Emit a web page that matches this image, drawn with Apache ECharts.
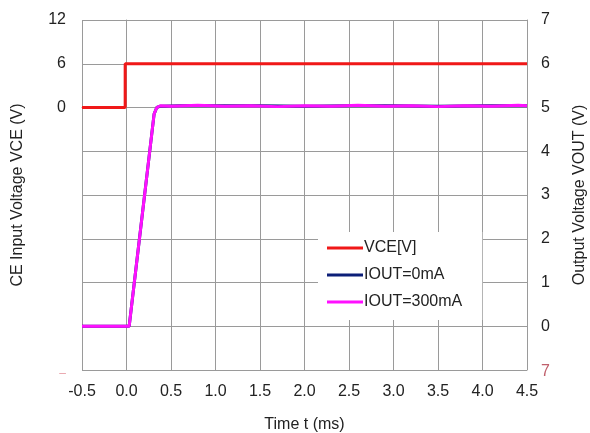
<!DOCTYPE html>
<html><head><meta charset="utf-8">
<script src="https://cdn.jsdelivr.net/npm/echarts@6/dist/echarts.min.js"></script>
<style>html,body{margin:0;padding:0;background:#fff;width:100%;height:100%;overflow:hidden}#c{position:absolute;left:0;top:0;width:590px;height:433px}</style>
</head><body><div id="c"></div>
<script>
const xTicks = [-0.5,0,0.5,1,1.5,2,2.5,3,3.5,4,4.5];
const leftTickLabels = ['12','6','0'];
const rightTickLabels = ['7','6','5','4','3','2','1','0'];
const vceTime = [-0.5, -0.015, -0.015, 4.5];
const vceVal  = [0, 0, 6, 6];
const iout0Time = [-0.5, 0.03, 0.31, 0.34, 0.38, 0.6, 1.0, 1.5, 2.0, 2.5, 3.0, 3.5, 4.0, 4.5];
const iout0Val  = [0, 0, 4.85, 5.0, 5.03, 5.04, 5.04, 5.04, 5.03, 5.04, 5.04, 5.03, 5.04, 5.04];
const iout300Time = [-0.5, 0.03, 0.31, 0.34, 0.38, 0.5, 0.8, 1.1, 1.4, 1.7, 2.0, 2.3, 2.6, 2.9, 3.2, 3.5, 3.8, 4.1, 4.4, 4.5];
const iout300Val  = [0, 0, 4.85, 5.0, 5.04, 5.03, 5.05, 5.03, 5.04, 5.02, 5.04, 5.03, 5.05, 5.03, 5.04, 5.02, 5.04, 5.03, 5.05, 5.04];

const zip = (a,b) => a.map((v,i)=>[v,b[i]]);
const gridColor = '#9a9a9a';
const font = 'Liberation Sans, Arial, sans-serif';
const fs = 16;
const chart = echarts.init(document.getElementById('c'), null, {width:590, height:433});
chart.setOption({
  animation:false,
  grid:{left:82,right:63,top:20,bottom:63,containLabel:false,outerBoundsMode:'none'},
  xAxis:{type:'value',min:-0.5,max:4.5,interval:0.5,
    name:'Time t (ms)',nameLocation:'middle',nameGap:47,
    nameTextStyle:{fontFamily:font,fontSize:fs,color:'#222'},
    axisLine:{lineStyle:{color:gridColor}},axisTick:{show:false},
    axisLabel:{fontFamily:font,fontSize:fs,color:'#222',margin:14,
      formatter:v=>{const t=xTicks.find(x=>Math.abs(x-v)<1e-9);return t===undefined?'':t.toFixed(1);}},
    splitLine:{show:true,lineStyle:{color:gridColor,width:1}}},
  yAxis:[
    {type:'value',min:-36,max:12,interval:6,position:'left',
     name:'CE Input Voltage VCE (V)',nameLocation:'middle',nameGap:56,nameRotate:90,
     nameTextStyle:{fontFamily:font,fontSize:fs,color:'#222'},
     axisLine:{show:true,lineStyle:{color:gridColor}},axisTick:{show:false},
     axisLabel:{fontFamily:font,fontSize:fs,color:'#222',margin:16,
       formatter:v=>{const s=String(v);if(leftTickLabels.includes(s))return s; if(v===-36)return '{r|–}'; return '';},
       rich:{r:{color:'#e8a0a8',fontSize:12,fontFamily:font,padding:[8,0,0,0]}}},
     splitLine:{show:true,lineStyle:{color:gridColor,width:1}}},
    {type:'value',min:-1,max:7,interval:1,position:'right',
     name:'Output Voltage VOUT (V)',nameLocation:'middle',nameGap:45,nameRotate:90,
     nameTextStyle:{fontFamily:font,fontSize:fs,color:'#222'},
     axisLine:{show:true,lineStyle:{color:gridColor}},axisTick:{show:false},
     axisLabel:{fontFamily:font,fontSize:fs,color:'#222',margin:14,
       formatter:v=>{const s=String(v);if(rightTickLabels.includes(s))return s; if(v===-1)return '{r|7}'; return '';},
       rich:{r:{color:'#c0606c',fontSize:fs,fontFamily:font,padding:[4,0,0,0]}}},
     splitLine:{show:false}}
  ],
  legend:{orient:'vertical',left:318,top:232,backgroundColor:'#fff',
    padding:[8,20,10,9],itemGap:11,itemWidth:36,itemHeight:3,icon:'rect',
    textStyle:{fontFamily:font,fontSize:fs,lineHeight:16,color:'#222',padding:[0,0,0,-4]},
    data:['VCE[V]','IOUT=0mA','IOUT=300mA']},
  series:[
    {name:'VCE[V]',type:'line',yAxisIndex:0,showSymbol:false,data:zip(vceTime,vceVal),
     itemStyle:{color:'#f01818'},lineStyle:{color:'#f01818',width:3}},
    {name:'IOUT=0mA',type:'line',yAxisIndex:1,showSymbol:false,data:zip(iout0Time,iout0Val),
     itemStyle:{color:'#0c1f78'},lineStyle:{color:'#0c1f78',width:3}},
    {name:'IOUT=300mA',type:'line',yAxisIndex:1,showSymbol:false,data:zip(iout300Time,iout300Val),
     itemStyle:{color:'#ff10ff'},lineStyle:{color:'#ff10ff',width:3}}
  ]
});
</script></body></html>
